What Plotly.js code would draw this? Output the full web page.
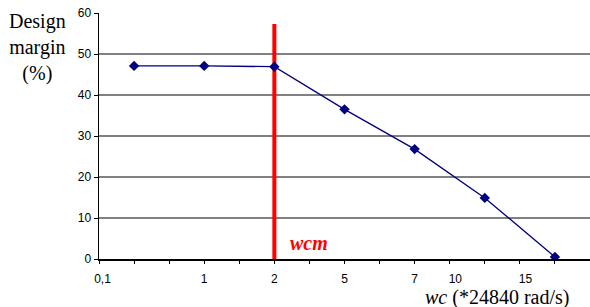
<!DOCTYPE html>
<html><head><meta charset="utf-8">
<script src="https://cdn.plot.ly/plotly-3.0.1.min.js"></script>
<style>html,body{margin:0;padding:0;background:#fff}</style>
</head><body><div id="chart" style="width:590px;height:307px"></div>
<script>
// data
var pointIndex = [1, 2, 3, 4, 5, 6, 7];
var designMargin = [47.1, 47.1, 46.9, 36.5, 26.8, 14.9, 0.5];
var tickLabels = ['0,1', '1', '2', '5', '7', '10', '15'];
var tickLabelPos = [0.55, 2, 3, 4, 5, 5.58, 6.58];
var wcmX = [3, 3];
var wcmY = [0, 57.3];

var traces = [
  {x: wcmX, y: wcmY, mode: 'lines', line: {color: '#ff0000', width: 4}, hoverinfo: 'skip', xaxis: 'x', yaxis: 'y'},
  {x: pointIndex, y: designMargin, mode: 'lines+markers',
   line: {color: '#000080', width: 1.3},
   marker: {symbol: 'diamond', size: 8, color: '#000080'}, xaxis: 'x', yaxis: 'y'},
  {x: [], y: [], xaxis: 'x2', yaxis: 'y', showlegend: false}
];

var layout = {
  width: 590, height: 307,
  margin: {l: 99, r: 0, t: 13, b: 48},
  paper_bgcolor: '#fff', plot_bgcolor: '#fff',
  showlegend: false,
  font: {family: 'Liberation Sans, Arial, sans-serif', size: 12, color: '#000'},
  xaxis: {range: [0.5, 7.5], tickmode: 'linear', tick0: 0.5, dtick: 0.5,
    ticks: 'outside', ticklen: 3, tickcolor: '#000', showticklabels: false,
    showgrid: false, zeroline: false, showline: true, linecolor: '#000', linewidth: 1.5},
  xaxis2: {range: [0.5, 7.5], overlaying: 'x', side: 'bottom', tickmode: 'array',
    tickvals: tickLabelPos, ticktext: tickLabels, ticks: '', ticklabelstandoff: 11,
    showgrid: false, zeroline: false, showline: false,
    tickfont: {family: 'Liberation Sans, Arial, sans-serif', size: 12}},
  yaxis: {range: [0, 60], dtick: 10, tickmode: 'linear', ticks: 'outside', ticklen: 4,
    tickcolor: '#000', showgrid: true, gridcolor: '#808080', gridwidth: 1.3,
    zeroline: false, showline: true, linecolor: '#000', linewidth: 1.5,
    tickfont: {family: 'Liberation Sans, Arial, sans-serif', size: 12}},
  annotations: [
    {text: 'Design<br>margin<br>(%)', xref: 'paper', yref: 'paper', x: -0.125, y: 1.02,
     xanchor: 'center', yanchor: 'top', showarrow: false, align: 'center',
     font: {family: 'Liberation Serif, Times New Roman, serif', size: 20, color: '#000'}},
    {text: '<i>wc</i> (*24840 rad/s)', xref: 'paper', yref: 'paper', x: 0.81, y: -0.158,
     xanchor: 'center', yanchor: 'middle', showarrow: false,
     font: {family: 'Liberation Serif, Times New Roman, serif', size: 20, color: '#000'}},
    {text: '<b><i>wcm</i></b>', xref: 'x', yref: 'y', x: 3.2, y: 4, xanchor: 'left', yanchor: 'middle',
     showarrow: false, font: {family: 'Liberation Serif, Times New Roman, serif', size: 20, color: '#ff0000'}}
  ]
};
Plotly.newPlot('chart', traces, layout, {staticPlot: true, displayModeBar: false});
</script></body></html>
